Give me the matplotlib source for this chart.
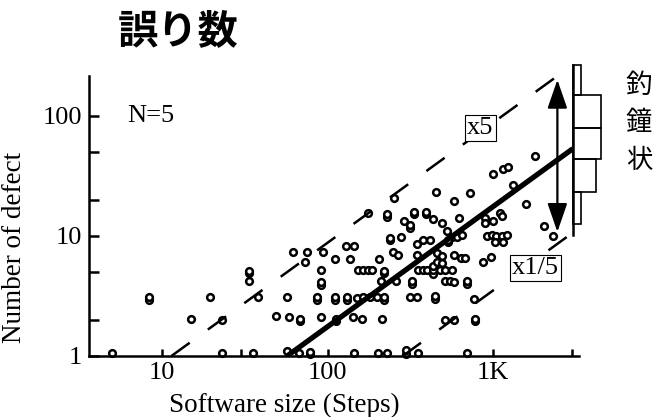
import numpy as np
import matplotlib
matplotlib.use('Agg')
import matplotlib.pyplot as plt

# scatter data: software size (steps) and number of defects
sizes = [5, 8.3, 8.3, 15, 19.5, 23, 23, 33.6, 33.6, 33.6,
         35.5, 38, 49, 57, 58.5, 68, 68, 62, 75.5, 73,
         94, 91, 91, 91, 86, 86, 111, 111, 111, 91,
         112, 112, 131, 131, 129, 144, 136, 153, 143, 151,
         78, 78, 67, 57, 144, 164, 176, 185, 220, 220,
         205, 210, 164, 181, 198, 220, 220, 161, 212, 203,
         228, 300, 300, 354, 176, 254, 230, 230, 335, 335,
         394, 394, 291, 315, 315, 436, 494, 451, 583, 623,
         525, 239, 239, 278, 346, 379, 416, 249, 266, 346,
         354, 379, 398, 436, 436, 436, 456, 494, 462, 494,
         478, 513, 563, 513, 550, 583, 322, 322, 258, 583,
         641, 315, 346, 447, 447, 513, 583, 563, 603, 647,
         537, 537, 1795, 1153, 1240, 1004, 1318, 726, 1585, 1101,
         1128, 1004, 896, 896, 916, 982, 1043, 1128, 1219, 1028,
         1153, 677, 873, 968, 700, 700, 767, 778, 778, 700,
         2043, 2317]
defects = [1.05, 2.95, 3.1, 2.05, 3.1, 2.0, 1.05, 4.9, 5.15, 4.2,
           1.05, 3.1, 2.15, 3.1, 2.1, 1.95, 2.05, 7.3, 7.3, 6.1,
           7.3, 5.2, 3.9, 4.1, 2.95, 3.1, 6.4, 2.95, 3.1, 2.1,
           1.95, 2.05, 2.95, 3.1, 8.3, 8.3, 6.4, 5.2, 2.1, 3.05,
           1.03, 1.08, 1.05, 1.1, 1.05, 5.2, 5.2, 5.2, 4.9, 5.1,
           6.4, 4.2, 3.1, 3.1, 3.1, 2.95, 3.1, 2.05, 2.05, 1.05,
           1.05, 1.03, 1.12, 1.05, 15.5, 20.6, 14.5, 15.1, 15.1, 15.8,
           15.1, 15.8, 13.2, 11.7, 12.3, 13.8, 12.9, 23.4, 19.7, 14,
           11.1, 9.2, 9.6, 9.8, 8.6, 9.3, 9.3, 7.4, 6.9, 6.9,
           5.2, 5.2, 5.2, 4.8, 5.2, 5.6, 7.2, 6.8, 6.1, 5.9,
           5.2, 5.2, 5.2, 4.2, 4.2, 4.1, 4.0, 4.2, 4.2, 6.9,
           6.5, 3.1, 3.1, 3.0, 3.15, 2.0, 2.0, 9.8, 9.8, 10.2,
           8.9, 9.3, 46.7, 36, 37.3, 32.7, 26.6, 22.7, 18.5, 15.5,
           14.7, 13.2, 14, 12.9, 10, 10.2, 9.9, 9.9, 10.2, 8.9,
           8.9, 6.5, 6.1, 6.7, 4.0, 4.2, 3.0, 1.95, 2.05, 1.05,
           12, 9.9]

# regression line y = x / 57 and the x5, x1/5 bands
coef = 1 / 57
line_x = [57, 3040]
band_factors = [5, 1 / 5]
band_x_end = 2920

# bell-shaped histogram of residuals on the right
hist_edges = [12.6, 23.2, 43.8, 79.4, 150, 266]
hist_counts = [5, 15, 18, 18, 5]

xticks = [10, 30, 100, 300, 1000, 3000]
xticklabels = ['10', '', '100', '', '1K', '']
yticks = [1, 2, 5, 10, 20, 50, 100]
yticklabels = ['1', '', '', '10', '', '', '100']

serif = 'Liberation Serif'
jp = ['Noto Sans CJK JP', 'DejaVu Sans']

fig = plt.figure(figsize=(6.57, 4.17), dpi=100)
ax = fig.add_axes([89 / 657, 61 / 417, 490 / 657, 280 / 417])
ax.set_xscale('log')
ax.set_yscale('log')
ax.set_xlim(3.62, 3310)
ax.set_ylim(1, 215)

ax.plot(sizes, defects, 'o', ms=4.8, mfc='white', mec='black', mew=1.8,
        clip_on=False, zorder=2)

# regression line
lx = np.array(line_x, dtype=float)
ax.plot(lx, coef * lx, color='black', lw=3.8, solid_capstyle='butt', zorder=4)

# dashed bands
for f in band_factors:
    x0 = 1 / (coef * f)
    bx = np.array([x0, band_x_end])
    ax.plot(bx, coef * f * bx, color='black', lw=1.8, dashes=(9, 9),
            clip_on=False, zorder=3)

ax.text(840, 79, 'x5', ha='center', va='center', fontsize=19, family=serif,
        bbox=dict(boxstyle='square,pad=0.08', fc='white', ec='black', lw=0.8), zorder=5)
ax.text(1806, 5.4, 'x1/5', ha='center', va='center', fontsize=19, family=serif,
        bbox=dict(boxstyle='square,pad=0.08', fc='white', ec='black', lw=0.8), zorder=5)

ax.annotate('', xy=(2450, 200), xytext=(2450, 10.8),
            arrowprops=dict(arrowstyle='<|-|>,head_length=1.1,head_width=0.38',
                            color='black', lw=1.6, mutation_scale=16,
                            shrinkA=0, shrinkB=0),
            annotation_clip=False, zorder=6)

ax.text(6.2, 100, 'N=5', ha='left', va='center', fontsize=19, family=serif)

# axes styling
for s in ['top', 'right']:
    ax.spines[s].set_visible(False)
for s in ['left', 'bottom']:
    ax.spines[s].set_linewidth(1.8)
ax.set_xticks(xticks)
ax.set_xticklabels(xticklabels, fontsize=19, family=serif)
ax.set_yticks(yticks)
ax.set_yticklabels(yticklabels, fontsize=19, family=serif)
ax.minorticks_off()
ax.tick_params(axis='x', direction='in', length=5, width=1.8, pad=4)
ax.tick_params(axis='y', direction='in', length=7, width=1.8, pad=5)

ax.set_xlabel('Software size (Steps)', fontsize=19.5, family=serif)
ax.set_ylabel('Number of defect', fontsize=19.5, family=serif)
ax.xaxis.set_label_coords(0.399, -0.13)
ax.yaxis.set_label_coords(-0.127, 0.386)

# histogram panel
hax = fig.add_axes([573 / 657, 61 / 417, 40 / 657, 280 / 417])
hax.set_yscale('log')
hax.set_ylim(1, 215)
hax.set_xlim(0, 40 / 1.55)
edges = np.array(hist_edges)
bars = hax.barh(edges[:-1], hist_counts, height=np.diff(edges), align='edge',
                fill=False, edgecolor='black', lw=1.2)
for b in bars:
    b.set_clip_on(False)
hax.plot([0, 0], [10.2, edges[-1]], color='black', lw=1.8, clip_on=False)
hax.axis('off')

fig.text(178 / 657, 1 - 32 / 417, '誤り数', ha='center', va='center',
         fontsize=29, fontweight='bold', family=jp)
for i, ch in enumerate('釣鐘状'):
    fig.text(639 / 657, 1 - (85 + 37.5 * i) / 417, ch, ha='center', va='center',
             fontsize=19, family=jp)

fig.savefig('out.png', dpi=100)
